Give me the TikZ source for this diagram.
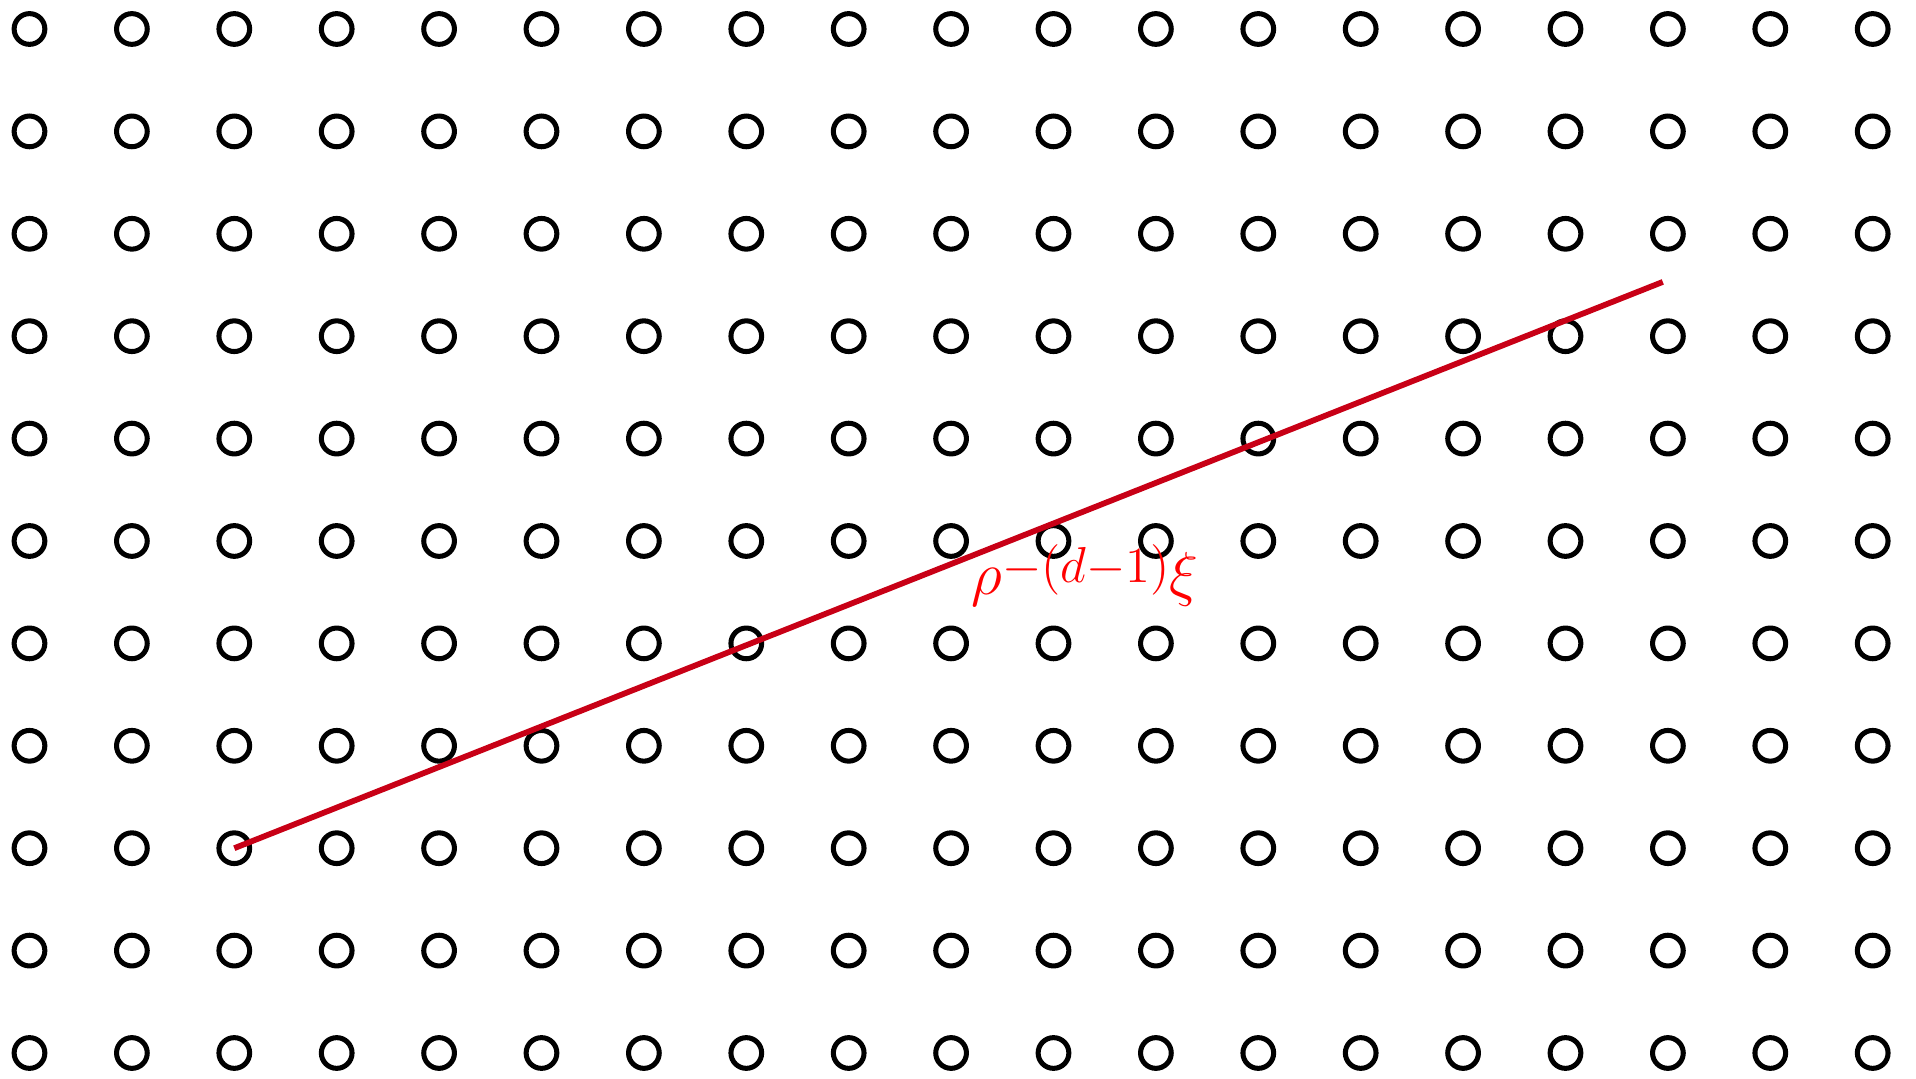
\documentclass[tikz,border=0pt]{standalone}
\newcommand{\basefs}{\fontsize{14.4}{17}\selectfont}
\newcommand{\supfs}{\fontsize{12}{14}\selectfont}
\begin{document}
\begin{tikzpicture}[
  latt/.style={circle, draw=black, line width=1.4pt, inner sep=0pt, minimum size=0.30cm},
  vecline/.style={line width=1.6pt, draw={rgb,255:red,200;green,0;blue,22}},
  veclabel/.style={text=red, anchor=base west, inner sep=0pt, scale=1.17, transform shape}
]
\useasboundingbox (-0.288,0.283) rectangle (18.423,-10.254);
\foreach \i in {0,...,18}{
  \foreach \j in {0,...,10}{
    \node[latt] (p-\i-\j) at (\i,-\j) {};
  }
}
\coordinate (tip) at (15.95,-2.47);
\draw[vecline] (p-2-8.center) -- (tip);
\node[veclabel] (lab) at (9.19,-5.52) {{\basefs$\rho$}\raisebox{2.8pt}{\supfs${-}(d{-}1)$}{\basefs$\xi$}};
\end{tikzpicture}
\end{document}
